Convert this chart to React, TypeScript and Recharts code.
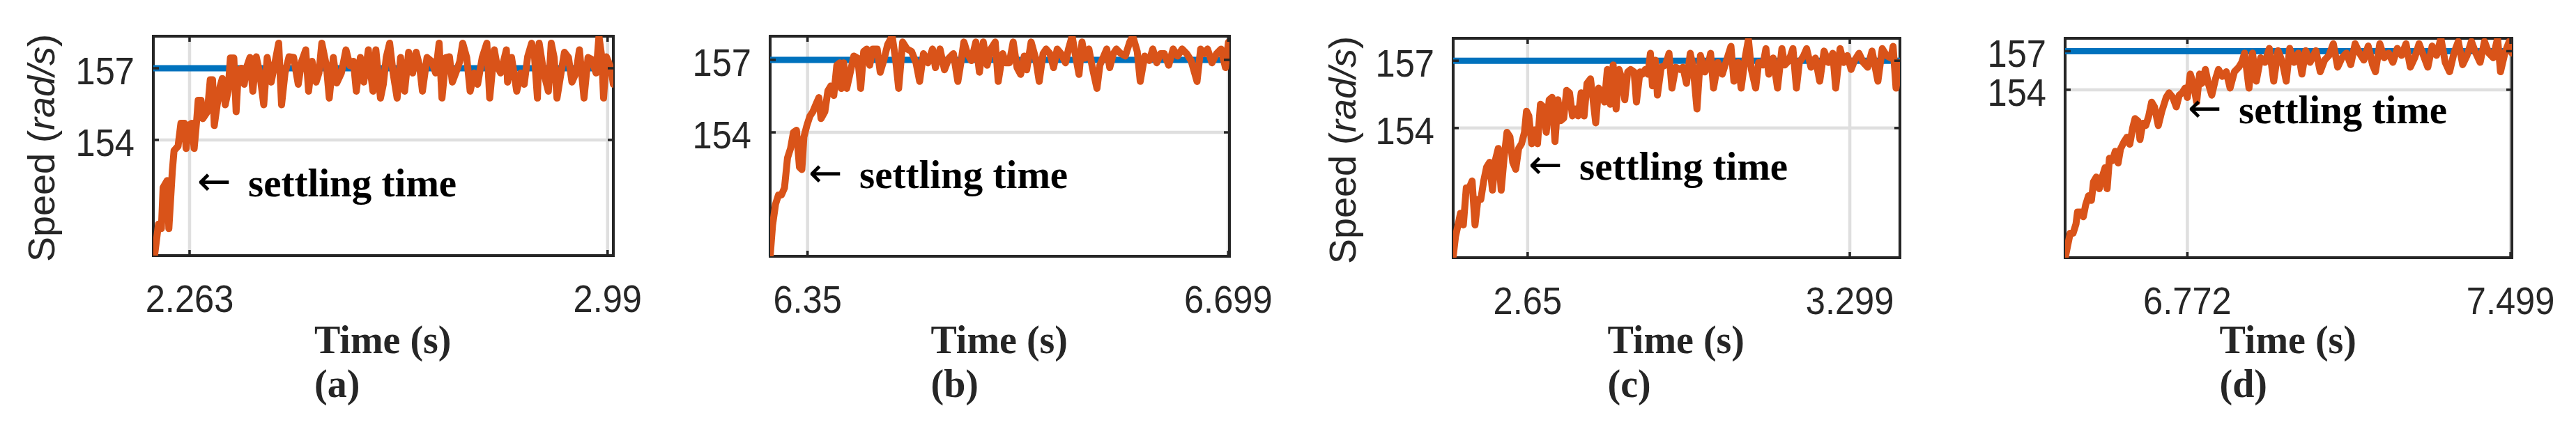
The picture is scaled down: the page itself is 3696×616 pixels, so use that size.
import React from "react";
import { LineChart, Line, XAxis, YAxis, CartesianGrid, ReferenceArea, ReferenceLine } from "recharts";

const W = 3696;
const H = 616;
const SANS = "'Liberation Sans', Arial, Helvetica, sans-serif";
const SERIF = "'Liberation Serif', 'Times New Roman', serif";
const ARROW_FONT = "'DejaVu Sans', 'Liberation Sans', sans-serif";
const ORANGE = "#D95319";
const BLUE = "#0072BD";
const INK = "#262626";
const GRID = "#dfdfdf";

const referenceSpeed = 157;
const yTicks = [154, 157];
const captions = ["(a)", "(b)", "(c)", "(d)"];
const xLabel = "Time (s)";
const arrowGlyph = "\u2190";
const annotation = "settling time";

// ---------- panel (a) ----------
const xTicksA = [2.263, 2.99];
const xDomainA = [2.2, 3.0];
const yDomainA = [149.16, 158.34];
const timeA = [
  2.202, 2.205, 2.209, 2.214, 2.217, 2.224, 2.227, 2.233, 2.236, 2.243,
  2.248, 2.254, 2.257, 2.261, 2.267, 2.271, 2.275, 2.278, 2.283, 2.286,
  2.294, 2.299, 2.303, 2.306, 2.311, 2.316, 2.32, 2.325, 2.33, 2.334,
  2.34, 2.344, 2.348, 2.353, 2.358, 2.363, 2.368, 2.373, 2.379, 2.385,
  2.392, 2.398, 2.405, 2.412, 2.418, 2.423, 2.429, 2.436, 2.444, 2.452,
  2.458, 2.465, 2.47, 2.476, 2.483, 2.488, 2.493, 2.501, 2.506, 2.513,
  2.519, 2.527, 2.535, 2.542, 2.548, 2.553, 2.56, 2.566, 2.574, 2.578,
  2.582, 2.587, 2.595, 2.6, 2.605, 2.611, 2.617, 2.624, 2.63, 2.637,
  2.644, 2.651, 2.657, 2.663, 2.668, 2.676, 2.684, 2.691, 2.697, 2.702,
  2.709, 2.715, 2.72, 2.726, 2.733, 2.738, 2.745, 2.751, 2.758, 2.764,
  2.772, 2.78, 2.785, 2.793, 2.798, 2.804, 2.814, 2.816, 2.823, 2.832,
  2.839, 2.845, 2.851, 2.858, 2.863, 2.868, 2.871, 2.879, 2.887, 2.892,
  2.897, 2.902, 2.909, 2.915, 2.922, 2.928, 2.935, 2.941, 2.949, 2.956,
  2.962, 2.97, 2.975, 2.98, 2.983, 2.988, 2.996, 3.0,
];
const speedA = [
  149.14, 149.71, 150.48, 150.29, 152.01, 152.3, 150.29, 152.69, 153.55, 153.74,
  154.7, 154.7, 153.64, 154.6, 154.7, 153.64, 154.7, 155.66, 155.66, 154.89,
  155.18, 156.52, 156.52, 154.6, 155.47, 156.23, 156.57, 155.47, 156.04, 157.43,
  157.43, 155.18, 156.9, 157.0, 156.33, 157.1, 157.45, 156.04, 157.48, 156.8,
  155.47, 157.45, 156.42, 157.29, 158.05, 155.47, 156.8, 157.48, 157.45, 156.33,
  157.29, 157.77, 156.04, 157.29, 156.42, 156.8, 158.05, 157.1, 155.75, 157.45,
  156.38, 156.8, 157.77, 157.1, 157.29, 156.04, 157.45, 156.42, 157.77, 156.8,
  156.04, 157.77, 155.75, 156.33, 157.45, 158.05, 156.8, 155.75, 157.45, 156.04,
  157.67, 156.8, 157.67, 157.1, 156.04, 157.45, 157.29, 156.8, 158.05, 155.75,
  157.45, 157.48, 156.42, 156.8, 157.29, 158.05, 157.45, 156.04, 156.8, 156.33,
  157.45, 158.05, 155.75, 157.77, 157.1, 156.8, 157.77, 156.42, 157.45, 156.04,
  156.8, 156.33, 157.48, 158.05, 157.45, 155.75, 158.05, 156.8, 156.04, 158.05,
  157.45, 155.75, 156.8, 157.67, 157.45, 156.42, 156.8, 157.77, 155.75, 157.45,
  157.38, 156.8, 158.34, 157.45, 155.75, 157.48, 157.0, 156.33,
];

// ---------- panel (b) ----------
const xTicksB = [6.35, 6.699];
const xDomainB = [6.319, 6.7];
const yDomainB = [148.87, 157.98];
const timeB = [
  6.319, 6.321, 6.3235, 6.3259, 6.3284, 6.3309, 6.3334, 6.3359, 6.3383, 6.3408,
  6.3433, 6.3453, 6.347, 6.3495, 6.352, 6.3545, 6.3569, 6.3594, 6.3612, 6.3644,
  6.3669, 6.3693, 6.3718, 6.3743, 6.3768, 6.378, 6.38, 6.3825, 6.3855, 6.3884,
  6.3917, 6.3941, 6.3966, 6.3991, 6.4016, 6.4041, 6.4078, 6.4103, 6.4132, 6.4165,
  6.4202, 6.4232, 6.4256, 6.4289, 6.4326, 6.4363, 6.44, 6.443, 6.4462, 6.4499,
  6.4537, 6.4561, 6.4599, 6.4636, 6.4673, 6.471, 6.4747, 6.4772, 6.4797, 6.4827,
  6.4859, 6.4896, 6.4926, 6.4958, 6.499, 6.502, 6.5057, 6.5082, 6.5119, 6.5144,
  6.5174, 6.5206, 6.5238, 6.5268, 6.5298, 6.5318, 6.5355, 6.5392, 6.5422, 6.5454,
  6.5479, 6.5511, 6.5541, 6.5571, 6.5603, 6.564, 6.5665, 6.5695, 6.572, 6.5752,
  6.5777, 6.5801, 6.5834, 6.5863, 6.5901, 6.5925, 6.595, 6.5982, 6.6007, 6.6037,
  6.6062, 6.6099, 6.6136, 6.6173, 6.6198, 6.6235, 6.626, 6.6297, 6.6335, 6.6364,
  6.6397, 6.6429, 6.6459, 6.6496, 6.6533, 6.657, 6.6607, 6.6645, 6.6682, 6.6731,
  6.6761, 6.6793, 6.6818, 6.6855, 6.6893, 6.693, 6.6967, 6.6992,
];
const speedB = [
  148.87, 150.16, 151.03, 151.41, 151.41, 151.7, 152.94, 153.33, 154.0, 154.09,
  152.56, 152.46, 153.81, 154.29, 154.67, 154.86, 155.15, 155.44, 154.57, 154.86,
  155.72, 155.92, 155.53, 156.78, 156.88, 155.82, 156.88, 155.82, 156.49, 157.16,
  157.07, 155.82, 157.35, 157.45, 156.78, 157.45, 157.45, 156.49, 156.97, 157.64,
  157.98, 156.97, 155.82, 157.74, 157.45, 157.35, 156.88, 156.11, 157.26, 156.88,
  157.45, 156.68, 157.45, 156.59, 157.07, 157.26, 156.11, 156.88, 157.74, 157.26,
  156.97, 157.74, 156.49, 157.74, 156.78, 157.45, 157.74, 156.11, 157.26, 156.88,
  156.88, 157.74, 156.68, 156.4, 157.16, 156.59, 157.74, 157.07, 156.11, 157.26,
  157.45, 157.26, 156.68, 157.45, 157.26, 156.88, 157.45, 157.98, 157.26, 156.4,
  157.74, 157.07, 157.45, 156.68, 155.82, 156.78, 157.07, 157.45, 156.68, 157.26,
  157.45, 157.26, 157.16, 157.74, 157.98, 157.35, 156.11, 157.16, 156.97, 157.45,
  156.88, 157.26, 157.26, 156.78, 157.45, 157.16, 157.45, 157.26, 156.97, 156.11,
  157.45, 157.26, 157.45, 156.88, 157.26, 157.45, 156.68, 157.74,
];

// ---------- panel (c) ----------
const xTicksC = [2.65, 3.299];
const xDomainC = [2.5, 3.4];
const yDomainC = [148.22, 158.0];
const timeC = [
  2.5, 2.5047, 2.5088, 2.5147, 2.5205, 2.5264, 2.5322, 2.5381, 2.544, 2.5498,
  2.5557, 2.5615, 2.5674, 2.5733, 2.5791, 2.585, 2.5908, 2.5967, 2.6026, 2.6084,
  2.6143, 2.6201, 2.626, 2.6319, 2.6377, 2.6436, 2.6477, 2.6524, 2.6582, 2.6641,
  2.6699, 2.6758, 2.6817, 2.6875, 2.6934, 2.6992, 2.7051, 2.711, 2.7168, 2.7227,
  2.7285, 2.7344, 2.7403, 2.7461, 2.752, 2.7578, 2.7637, 2.7696, 2.7766, 2.7813,
  2.7871, 2.793, 2.7989, 2.8047, 2.8106, 2.8164, 2.8223, 2.8282, 2.834, 2.8399,
  2.8457, 2.8516, 2.8575, 2.8645, 2.8692, 2.8762, 2.8809, 2.8868, 2.8926, 2.8973,
  2.9014, 2.9073, 2.9114, 2.919, 2.9278, 2.9348, 2.9407, 2.9483, 2.9571, 2.9629,
  2.97, 2.9776, 2.9835, 2.9911, 2.9981, 3.0069, 3.0128, 3.0186, 3.0245, 3.0333,
  3.0421, 3.0508, 3.0596, 3.0655, 3.0743, 3.0801, 3.0889, 3.0948, 3.1007, 3.1094,
  3.1153, 3.1241, 3.13, 3.1358, 3.1446, 3.1534, 3.1622, 3.168, 3.1768, 3.1844,
  3.1915, 3.1973, 3.2061, 3.212, 3.2208, 3.2296, 3.2384, 3.2472, 3.2559, 3.2647,
  3.2706, 3.2794, 3.2864, 3.294, 3.3016, 3.3087, 3.3175, 3.3263, 3.3351, 3.3438,
  3.3556, 3.3644, 3.3731, 3.3819, 3.3862, 3.3921, 3.3995,
];
const speedC = [
  148.28, 149.16, 149.57, 150.2, 149.68, 151.33, 151.33, 151.64, 149.68, 150.82,
  150.82, 151.64, 152.26, 152.47, 151.23, 152.57, 153.09, 151.23, 152.68, 153.81,
  153.61, 152.47, 152.16, 153.09, 153.3, 153.81, 154.75, 154.54, 153.3, 153.92,
  153.3, 155.06, 154.95, 153.81, 155.26, 155.37, 153.4, 155.26, 154.33, 154.44,
  155.68, 155.57, 154.54, 154.85, 154.54, 155.57, 154.54, 155.99, 156.19, 155.37,
  154.23, 155.78, 155.57, 155.16, 156.61, 155.06, 156.81, 154.85, 156.61, 156.19,
  155.26, 156.5, 156.61, 156.5, 155.16, 156.5, 156.4, 156.61, 156.4, 157.33,
  155.88, 157.02, 155.47, 156.71, 156.81, 157.33, 155.78, 156.71, 156.61, 156.71,
  155.99, 157.33, 156.71, 154.85, 157.23, 156.5, 156.71, 157.33, 155.78, 156.92,
  156.4, 157.02, 157.64, 156.09, 156.92, 155.78, 157.23, 157.95, 156.61, 155.78,
  156.92, 156.81, 157.54, 156.4, 157.12, 155.78, 157.54, 156.81, 157.02, 157.54,
  155.78, 156.92, 157.23, 157.54, 156.71, 157.12, 156.09, 157.43, 156.92, 157.33,
  155.78, 157.54, 156.92, 157.23, 156.61, 157.02, 157.33, 156.92, 156.71, 157.43,
  156.09, 157.54, 157.23, 157.12, 157.64, 155.78, 156.92,
];

// ---------- panel (d) ----------
const xTicksD = [6.772, 7.499];
const xDomainD = [6.497, 7.502];
const yDomainD = [140.95, 158.0];
const timeD = [
  6.4973, 6.5019, 6.5084, 6.515, 6.5215, 6.5248, 6.5326, 6.5379, 6.5431, 6.5496,
  6.5562, 6.5608, 6.5673, 6.5738, 6.5804, 6.5869, 6.5915, 6.5967, 6.6033, 6.6098,
  6.6163, 6.6216, 6.6294, 6.636, 6.6425, 6.649, 6.6543, 6.6608, 6.6654, 6.6719,
  6.6785, 6.685, 6.6916, 6.6981, 6.7066, 6.7144, 6.7243, 6.7308, 6.7393, 6.7471,
  6.7537, 6.7602, 6.7668, 6.772, 6.7785, 6.7851, 6.7929, 6.7995, 6.8047, 6.8125,
  6.8191, 6.8269, 6.8354, 6.842, 6.8505, 6.8596, 6.8681, 6.8779, 6.8878, 6.8943,
  6.9008, 6.9106, 6.9185, 6.927, 6.9368, 6.9466, 6.9564, 6.9662, 6.976, 6.9859,
  6.9944, 7.0022, 7.012, 7.0218, 7.0297, 7.0382, 7.048, 7.0611, 7.0709, 7.0807,
  7.0905, 7.1003, 7.1101, 7.1199, 7.1297, 7.1395, 7.1494, 7.1592, 7.169, 7.1788,
  7.1886, 7.1951, 7.2049, 7.2148, 7.2246, 7.2344, 7.2442, 7.254, 7.2638, 7.2736,
  7.2834, 7.2932, 7.303, 7.3129, 7.3227, 7.3325, 7.3423, 7.3521, 7.3619, 7.3717,
  7.3815, 7.3913, 7.4011, 7.411, 7.4208, 7.4306, 7.4404, 7.4502, 7.46, 7.4698,
  7.4764, 7.4862, 7.496, 7.502,
];
const speedD = [
  140.95, 141.76, 142.85, 142.85, 143.58, 144.49, 144.49, 144.13, 145.04, 145.76,
  145.4, 146.85, 147.22, 146.31, 147.22, 147.95, 146.31, 148.67, 148.49, 149.22,
  148.31, 149.4, 149.95, 150.31, 149.76, 151.04, 151.76, 151.58, 150.13, 151.4,
  151.22, 151.95, 153.04, 152.67, 151.22, 152.31, 153.4, 153.76, 153.4, 152.67,
  153.58, 153.76, 154.13, 153.4, 155.22, 154.49, 153.04, 155.22, 154.49, 155.58,
  154.49, 153.58, 154.85, 155.58, 155.04, 155.4, 154.13, 155.4, 155.76, 156.13,
  156.85, 154.13, 156.85, 154.67, 156.49, 156.13, 157.22, 154.67, 157.04, 156.13,
  154.67, 157.22, 156.13, 156.85, 155.22, 157.04, 156.13, 157.04, 155.4, 156.31,
  156.67, 157.58, 155.76, 156.49, 156.85, 155.95, 157.58, 156.85, 156.31, 157.4,
  155.95, 155.4, 157.58, 156.49, 156.85, 156.13, 157.22, 156.67, 157.58, 155.76,
  156.49, 157.58, 156.67, 155.76, 157.4, 156.67, 158.0, 156.13, 155.4, 156.85,
  157.76, 155.95, 156.67, 157.76, 156.85, 156.13, 157.76, 156.85, 156.49, 158.0,
  155.4, 156.85, 157.76, 156.85,
];

// ---------- layout (pixel geometry of each panel) ----------
type Box = { L: number; R: number; T: number; B: number };
type Spec = {
  time: number[];
  speed: number[];
  xTicks: number[];
  xDomain: number[];
  yDomain: number[];
  box: Box;
  chartLeft: number;
  caption: string;
  showYLabel: boolean;
  yLabelX: number;
  note: [number, number];
};

const RIGHT_PAD = 90;
const TICK_LEN = 8;

const panels: Spec[] = [
  { time: timeA, speed: speedA, xTicks: xTicksA, xDomain: xDomainA, yDomain: yDomainA,
    box: { L: 220, R: 880, T: 52, B: 367 }, chartLeft: 0, caption: captions[0],
    showYLabel: true, yLabelX: 78, note: [285, 282] },
  { time: timeB, speed: speedB, xTicks: xTicksB, xDomain: xDomainB, yDomain: yDomainB,
    box: { L: 1105, R: 1764, T: 52, B: 368 }, chartLeft: 950, caption: captions[1],
    showYLabel: false, yLabelX: 0, note: [1162, 270] },
  { time: timeC, speed: speedC, xTicks: xTicksC, xDomain: xDomainC, yDomain: yDomainC,
    box: { L: 2085, R: 2726, T: 55, B: 370 }, chartLeft: 1850, caption: captions[2],
    showYLabel: true, yLabelX: 1945, note: [2195, 258] },
  { time: timeD, speed: speedD, xTicks: xTicksD, xDomain: xDomainD, yDomain: yDomainD,
    box: { L: 2963, R: 3604, T: 55, B: 370 }, chartLeft: 2800, caption: captions[3],
    showYLabel: false, yLabelX: 0, note: [3141, 177] },
];

const TICK_FS = 55;
const TICK_SX = 0.92;

function XTick(props: any) {
  const { x, y, payload } = props;
  return (
    <text
      transform={`translate(${x},${y + 39}) scale(${TICK_SX},1)`}
      textAnchor="middle"
      fontFamily={SANS}
      fontSize={TICK_FS}
      fill={INK}
    >
      {String(payload.value)}
    </text>
  );
}

function YTick(props: any) {
  const { x, y, payload } = props;
  return (
    <text
      transform={`translate(${x},${y + 23}) scale(${TICK_SX},1)`}
      textAnchor="end"
      fontFamily={SANS}
      fontSize={TICK_FS}
      fill={INK}
    >
      {String(payload.value)}
    </text>
  );
}

function Panel({ spec }: { spec: Spec }) {
  const { box, chartLeft } = spec;
  const width = box.R - chartLeft + RIGHT_PAD;
  const data = spec.time.map((t, i) => ({ t, v: spec.speed[i] }));
  const refData = [
    { t: spec.xDomain[0], v: referenceSpeed },
    { t: spec.xDomain[1], v: referenceSpeed },
  ];
  const [x0, x1] = spec.xDomain;
  const [y0, y1] = spec.yDomain;
  // inward tick length converted from pixels to data units
  const dyTick = (TICK_LEN * (y1 - y0)) / (box.B - box.T);
  const dxTick = (TICK_LEN * (x1 - x0)) / (box.R - box.L);
  const tickStroke = { stroke: INK, strokeWidth: 3.5 };
  return (
    <div style={{ position: "absolute", left: chartLeft, top: 0 }}>
      <LineChart
        width={width}
        height={H}
        margin={{ top: box.T, right: RIGHT_PAD, bottom: 0, left: 0 }}
      >
        <CartesianGrid stroke={GRID} strokeWidth={4.5} />
        <XAxis
          dataKey="t"
          type="number"
          domain={spec.xDomain}
          ticks={spec.xTicks}
          allowDataOverflow
          interval={0}
          height={H - box.B}
          tickSize={0}
          tickMargin={42}
          tickLine={false}
          axisLine={false}
          tick={XTick}
        />
        <YAxis
          type="number"
          domain={spec.yDomain}
          ticks={yTicks}
          allowDataOverflow
          interval={0}
          width={box.L - chartLeft}
          tickSize={0}
          tickMargin={27}
          tickLine={false}
          axisLine={false}
          tick={YTick}
        />
        <Line
          data={refData}
          dataKey="v"
          stroke={BLUE}
          strokeWidth={9}
          dot={false}
          activeDot={false}
          isAnimationActive={false}
        />
        <Line
          data={data}
          dataKey="v"
          stroke={ORANGE}
          strokeWidth={10}
          strokeLinejoin="round"
          strokeLinecap="round"
          dot={false}
          activeDot={false}
          isAnimationActive={false}
        />
        {spec.xTicks.map((t) => (
          <ReferenceLine
            key={`xb${t}`}
            segment={[{ x: t, y: y0 }, { x: t, y: y0 + dyTick }]}
            ifOverflow="visible"
            {...tickStroke}
          />
        ))}
        {spec.xTicks.map((t) => (
          <ReferenceLine
            key={`xt${t}`}
            segment={[{ x: t, y: y1 }, { x: t, y: y1 - dyTick }]}
            ifOverflow="visible"
            {...tickStroke}
          />
        ))}
        {yTicks.map((v) => (
          <ReferenceLine
            key={`yl${v}`}
            segment={[{ x: x0, y: v }, { x: x0 + dxTick, y: v }]}
            ifOverflow="visible"
            {...tickStroke}
          />
        ))}
        {yTicks.map((v) => (
          <ReferenceLine
            key={`yr${v}`}
            segment={[{ x: x1, y: v }, { x: x1 - dxTick, y: v }]}
            ifOverflow="visible"
            {...tickStroke}
          />
        ))}
        <ReferenceArea
          x1={x0}
          x2={x1}
          y1={y0}
          y2={y1}
          ifOverflow="visible"
          fill="none"
          fillOpacity={0}
          stroke={INK}
          strokeWidth={4}
        />
      </LineChart>
    </div>
  );
}

function Overlay() {
  return (
    <svg
      width={W}
      height={H}
      style={{ position: "absolute", left: 0, top: 0, pointerEvents: "none" }}
    >
      {panels.map((p, i) => {
        const cx = (p.box.L + p.box.R) / 2;
        const labelStart = cx - 99;
        const cy = (p.box.T + p.box.B) / 2 + 3;
        return (
          <g key={i}>
            <text x={labelStart} y={507} fontFamily={SERIF} fontWeight={700} fontSize={56} fill={INK}>
              {xLabel}
            </text>
            <text x={labelStart} y={570} fontFamily={SERIF} fontWeight={700} fontSize={56} fill={INK}>
              {p.caption}
            </text>
            <text x={p.note[0] - 2} y={p.note[1] - 2} fontFamily={ARROW_FONT} fontSize={58} fill="#000">
              {arrowGlyph}
            </text>
            <text x={p.note[0] + 71} y={p.note[1]} fontFamily={SERIF} fontWeight={700} fontSize={57} fill="#000">
              {annotation}
            </text>
            {p.showYLabel && (
              <text
                transform={`translate(${p.yLabelX},${cy}) rotate(-90)`}
                textAnchor="middle"
                fontFamily={SANS}
                fontSize={54}
                fill={INK}
              >
                Speed (<tspan fontStyle="italic">rad/s</tspan>)
              </text>
            )}
          </g>
        );
      })}
    </svg>
  );
}

export default function App() {
  return (
    <div
      style={{
        position: "absolute",
        left: 0,
        top: 0,
        width: W,
        height: H,
        background: "#ffffff",
        overflow: "hidden",
      }}
    >
      {panels.map((p, i) => (
        <Panel key={i} spec={p} />
      ))}
      <Overlay />
    </div>
  );
}
